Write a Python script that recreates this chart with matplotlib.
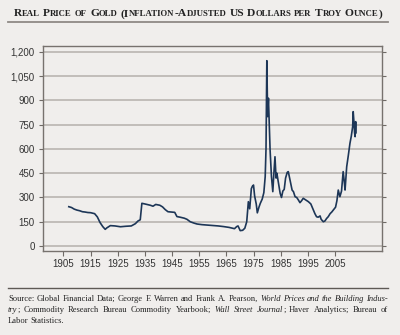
import matplotlib
matplotlib.use("Agg")
import matplotlib.pyplot as plt
from matplotlib.lines import Line2D

# ---------------- data ----------------
years = [1907.0, 1908.0, 1909.0, 1910.0, 1911.0, 1912.0, 1913.0, 1914.0, 1915.0, 1916.5,
         1917.5, 1918.5, 1919.5, 1920.4, 1921.0, 1922.3, 1924.0, 1926.0, 1928.0, 1930.0,
         1931.5, 1932.5, 1933.3, 1933.9, 1935.0, 1937.0, 1938.0, 1939.0, 1940.5, 1941.5,
         1942.5, 1943.5, 1945.0, 1946.0, 1946.8, 1948.0, 1949.5, 1950.5, 1951.7, 1953.0,
         1954.2, 1956.0, 1959.0, 1962.0, 1964.0, 1966.0, 1968.0, 1968.8, 1969.3, 1970.1,
         1971.0, 1971.8, 1972.5, 1973.1, 1973.6, 1974.2, 1974.6, 1975.0, 1975.4, 1976.0,
         1976.4, 1977.0, 1977.5, 1978.2, 1978.8, 1979.3, 1979.6, 1979.9, 1980.2, 1980.5,
         1980.8, 1981.1, 1981.6, 1982.1, 1982.5, 1982.9, 1983.3, 1983.6, 1984.1, 1984.8,
         1985.3, 1985.8, 1986.3, 1986.8, 1987.4, 1987.8, 1988.3, 1988.8, 1989.2, 1989.7,
         1990.3, 1990.9, 1991.5, 1992.1, 1992.7, 1993.3, 1994.2, 1995.2, 1996.1, 1997.0,
         1997.6, 1998.2, 1998.8, 1999.5, 1999.9, 2000.7, 2001.3, 2001.9, 2002.5, 2003.2,
         2003.8, 2004.4, 2005.2, 2005.7, 2006.2, 2006.8, 2007.4, 2008.0, 2008.4, 2008.7,
         2009.3, 2009.9, 2010.5, 2011.0, 2011.5, 2011.7, 2012.0, 2012.2, 2012.4, 2012.6,
         2012.7]
real_price = [243, 238, 228, 222, 218, 212, 210, 207, 206, 200,
              180, 145, 120, 103, 112, 126, 124, 119, 122, 124,
              138, 155, 162, 264, 260, 252, 246, 257, 252, 242,
              225, 212, 210, 208, 182, 178, 172, 165, 150, 142,
              136, 132, 128, 124, 120, 115, 107, 120, 124, 95,
              97, 110, 150, 274, 230, 355, 370, 377, 310, 260,
              205, 240, 264, 290, 330, 429, 600, 1146, 800, 914,
              750, 594, 430, 336, 450, 552, 420, 450, 400, 326,
              300, 340, 350, 420, 455, 460, 420, 380, 346, 336,
              305, 300, 285, 268, 280, 295, 285, 274, 260, 225,
              200, 181, 178, 186, 165, 150, 155, 170, 181, 200,
              210, 223, 240, 280, 346, 305, 340, 460, 400, 346,
              490, 560, 635, 680, 738, 831, 760, 700, 676, 769,
              700]

x_ticks = [1905, 1915, 1925, 1935, 1945, 1955, 1965, 1975, 1985, 1995, 2005]
y_ticks = [0, 150, 300, 450, 600, 750, 900, 1050, 1200]
y_tick_labels = ["0", "150", "300", "450", "600", "750", "900", "1,050", "1,200"]

title_text = "Real Price of Gold (Inflation-Adjusted US Dollars per Troy Ounce)"

# source note: lines of words; each word is list of (text, italic)
source_lines = [
    [[("Source:", False)], [("Global", False)], [("Financial", False)], [("Data;", False)],
     [("George", False)], [("F.", False)], [("Warren", False)], [("and", False)], [("Frank", False)],
     [("A.", False)], [("Pearson,", False)], [("World", True)], [("Prices", True)], [("and", True)],
     [("the", True)], [("Building", True)], [("Indus-", True)]],
    [[("try", True), (";", False)], [("Commodity", False)], [("Research", False)], [("Bureau", False)],
     [("Commodity", False)], [("Yearbook;", False)], [("Wall", True)], [("Street", True)],
     [("Journal", True), (";", False)], [("Haver", False)], [("Analytics;", False)],
     [("Bureau", False)], [("of", False)]],
    [[("Labor", False)], [("Statistics.", False)]],
]

# ---------------- figure ----------------
BG = "#f0eeec"
W, H = 400, 335
fig = plt.figure(figsize=(W / 100, H / 100), dpi=100, facecolor=BG)
ax = fig.add_axes([43 / W, 1 - 251 / H, (382 - 43) / W, (251 - 46) / H], facecolor=BG)

ax.plot(years, real_price, color="#1d3657", lw=1.2, solid_joinstyle="round", zorder=3)

ax.set_xlim(1897.5, 2022.3)
ax.set_ylim(-31, 1237)
ax.set_xticks(x_ticks)
ax.set_yticks(y_ticks)
ax.set_yticklabels(y_tick_labels)
ax.grid(axis="y", color="#b5b0ab", lw=1.1, zorder=1)
ax.tick_params(axis="both", direction="out", length=3.5, width=0.8, color="#6f6a66",
               labelsize=7, labelcolor="#333333", pad=2)
ax.tick_params(axis="y", right=True, length=3, pad=3)
ax.tick_params(axis="y", which="both", labelright=False)
for lab in ax.get_xticklabels() + ax.get_yticklabels():
    lab.set_family("Liberation Sans")
for s in ax.spines.values():
    s.set_color("#77726e")
    s.set_linewidth(1.0)

# rules
fig.add_artist(Line2D([8 / W, 388 / W], [1 - 22 / H, 1 - 22 / H], color="#8f8a86", lw=1.3))
fig.add_artist(Line2D([8 / W, 388 / W], [1 - 288 / H, 1 - 288 / H], color="#5e5955", lw=1.0))

fig.canvas.draw()
renderer = fig.canvas.get_renderer()


def width_px(text, **kw):
    t = fig.text(0, 0, text, **kw)
    w = t.get_window_extent(renderer=renderer).width
    t.remove()
    return w


def words_width(words, space_px):
    tot = sum(width_px(tx, **kw) for w in words for tx, kw in w)
    return tot + space_px * (len(words) - 1)


def place_words(words, x0, x1, y_base, justify, space_px=None):
    widths = [[width_px(tx, **kw) for tx, kw in w] for w in words]
    totals = [sum(ws) for ws in widths]
    if justify and len(words) > 1:
        sp = (x1 - x0 - sum(totals)) / (len(words) - 1)
    else:
        sp = space_px
    x = x0
    for w, ws in zip(words, widths):
        for (tx, kw), wd in zip(w, ws):
            fig.text(x / W, 1 - y_base / H, tx, ha="left", va="baseline", **kw)
            x += wd
        x += sp


def title_words_for(size_big):
    big = dict(family="Liberation Serif", weight="bold", size=size_big, color="#222222")
    small = dict(family="Liberation Serif", weight="bold", size=size_big * 0.76, color="#222222")
    out = []
    for word in title_text.split(" "):
        merged = []
        for ch in word:
            kw = small if ch.islower() else big
            tx = ch.upper()
            if merged and merged[-1][1] is kw:
                merged[-1] = (merged[-1][0] + tx, kw)
            else:
                merged.append((tx, kw))
        out.append(merged)
    return out, big


# auto-fit title size so natural width ~ 368 px
tw, big = title_words_for(10)
nat = words_width(tw, width_px("n", **big) * 0.5)
s_title = 10 * 368 / nat
tw, big = title_words_for(s_title)
place_words(tw, 14, 382, 16.5, justify=True)


def source_words(size):
    roman = dict(family="Liberation Serif", size=size, color="#222222")
    ital = dict(family="Liberation Serif", size=size, style="italic", color="#222222")
    return [[[(tx, ital if it else roman) for tx, it in w] for w in line] for line in source_lines], roman


sw, roman = source_words(10)
nat = words_width(sw[0], width_px("n", **roman) * 0.5)
s_src = 10 * 374 / nat
sw, roman = source_words(s_src)
sp_norm = width_px("n", **roman) * 0.5
bases = [301, 312, 323]
for i, words in enumerate(sw):
    place_words(words, 8, 388, bases[i], justify=(i < len(sw) - 1), space_px=sp_norm)

fig.savefig("out.png", dpi=100, facecolor=BG)
